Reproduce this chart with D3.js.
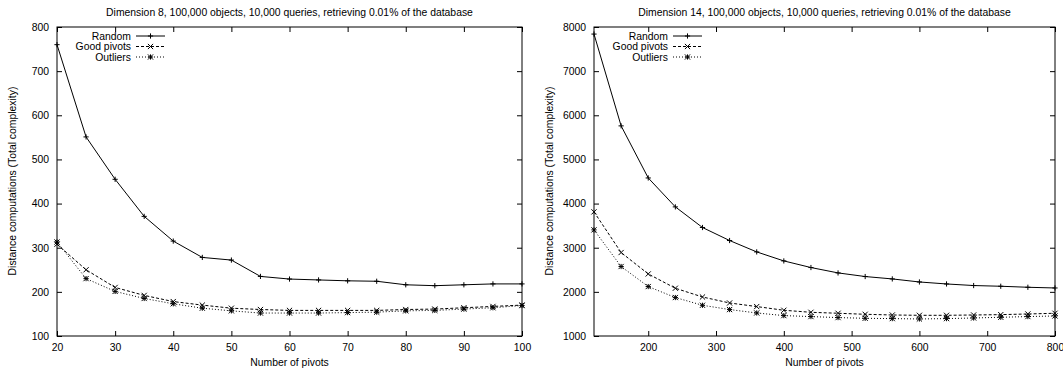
<!DOCTYPE html>
<html>
<head>
<meta charset="utf-8">
<script src="https://cdn.jsdelivr.net/npm/d3@7"></script>
<style>
  body { margin: 0; background: #fff; }
  svg text { font-family: "Liberation Sans", Arial, sans-serif; font-size: 10.4px; fill: #000; }
</style>
</head>
<body>
<div id="chart"></div>
<script>
// data
const seriesNames = ["Random", "Good pivots", "Outliers"];

const pivots8 = [20, 25, 30, 35, 40, 45, 50, 55, 60, 65, 70, 75, 80, 85, 90, 95, 100];
const random8 = [760, 551, 455, 371, 315, 278, 272, 235, 229, 227, 225, 224, 216, 214, 216, 218, 218];
const good8 = [308, 250, 210, 192, 178, 170, 163, 160, 158, 158, 158, 158, 160, 161, 164, 167, 170];
const outliers8 = [313, 230, 201, 185, 173, 163, 157, 152, 152, 152, 153, 154, 157, 158, 161, 164, 169];
const xTicks8 = [20, 30, 40, 50, 60, 70, 80, 90, 100];
const yTicks8 = [100, 200, 300, 400, 500, 600, 700, 800];

const pivots14 = [120, 160, 200, 240, 280, 320, 360, 400, 440, 480, 520, 560, 600, 640, 680, 720, 760, 800];
const random14 = [7840, 5760, 4580, 3925, 3458, 3163, 2905, 2701, 2551, 2429, 2347, 2293, 2224, 2179, 2143, 2127, 2104, 2088];
const good14 = [3812, 2891, 2406, 2082, 1884, 1748, 1667, 1583, 1537, 1515, 1492, 1476, 1469, 1469, 1476, 1484, 1499, 1515];
const outliers14 = [3404, 2574, 2120, 1871, 1696, 1599, 1522, 1462, 1440, 1417, 1401, 1394, 1386, 1394, 1408, 1424, 1440, 1454];
const xTicks14 = [200, 300, 400, 500, 600, 700, 800];
const yTicks14 = [1000, 2000, 3000, 4000, 5000, 6000, 7000, 8000];

const width = 1063;
const height = 369;

const svg = d3.select("#chart")
    .append("svg")
    .attr("width", width)
    .attr("height", height);

// gnuplot-ish point types: plus, cross, star
const s = 2.6;
const markers = [
    `M${-s},0H${s}M0,${-s}V${s}`,
    `M${-s},${-s}L${s},${s}M${-s},${s}L${s},${-s}`,
    `M${-s},0H${s}M0,${-s}V${s}M${-s},${-s}L${s},${s}M${-s},${s}L${s},${-s}`
];
const dashes = [null, "3,2", "1,2"];
const fmt = d3.format("d");

function drawPanel(opt) {
    const g = svg.append("g");
    const x = d3.scaleLinear().domain(opt.xDomain).range([opt.left, opt.right]);
    const y = d3.scaleLinear().domain(opt.yDomain).range([336, 27]);
    const tick = 5;

    // ticks inward on all four sides
    g.append("g").attr("transform", `translate(0,${y.range()[0]})`)
        .call(d3.axisBottom(x).tickValues(opt.xTicks).tickFormat(fmt).tickSizeInner(-tick).tickSizeOuter(0).tickPadding(8));
    g.append("g").attr("transform", `translate(0,${y.range()[1]})`)
        .call(d3.axisTop(x).tickValues(opt.xTicks).tickSizeInner(-tick).tickSizeOuter(0).tickFormat(""));
    g.append("g").attr("transform", `translate(${opt.left},0)`)
        .call(d3.axisLeft(y).tickValues(opt.yTicks).tickFormat(fmt).tickSizeInner(-tick).tickSizeOuter(0).tickPadding(8));
    g.append("g").attr("transform", `translate(${opt.right},0)`)
        .call(d3.axisRight(y).tickValues(opt.yTicks).tickSizeInner(-tick).tickSizeOuter(0).tickFormat(""));
    g.selectAll(".domain").remove();
    g.selectAll(".tick line").attr("stroke", "#000");
    g.selectAll(".tick text").style("font-size", "10.4px");

    // border
    g.append("rect")
        .attr("x", opt.left).attr("y", 27)
        .attr("width", opt.right - opt.left).attr("height", 336 - 27)
        .attr("fill", "none").attr("stroke", "#000").attr("stroke-width", 1);

    const cx = (opt.left + opt.right) / 2;
    g.append("text").attr("x", cx).attr("y", 16).attr("text-anchor", "middle").text(opt.title);
    g.append("text").attr("x", cx).attr("y", 366).attr("text-anchor", "middle").text("Number of pivots");
    g.append("text")
        .attr("transform", `translate(${opt.left - 41},181) rotate(-90)`)
        .attr("text-anchor", "middle")
        .text("Distance computations (Total complexity)");

    const line = d3.line()
        .x(d => x(d[0]))
        .y(d => y(d[1]));

    opt.series.forEach(function (vals, i) {
        const pts = opt.xs.map((v, j) => [v, vals[j]]);
        g.append("path")
            .datum(pts)
            .attr("fill", "none")
            .attr("stroke", "#000")
            .attr("stroke-width", 1)
            .attr("stroke-dasharray", dashes[i])
            .attr("d", line);
        g.append("g").selectAll("path")
            .data(pts)
            .enter()
            .append("path")
            .attr("transform", d => `translate(${x(d[0])},${y(d[1])})`)
            .attr("d", markers[i])
            .attr("fill", "none")
            .attr("stroke", "#000")
            .attr("stroke-width", 1);

        // legend row
        const ly = 36 + i * 10.5;
        g.append("text")
            .attr("x", opt.left + 74).attr("y", ly + 3.6)
            .attr("text-anchor", "end")
            .text(seriesNames[i]);
        g.append("line")
            .attr("x1", opt.left + 79).attr("x2", opt.left + 108)
            .attr("y1", ly).attr("y2", ly)
            .attr("stroke", "#000")
            .attr("stroke-dasharray", dashes[i]);
        g.append("path")
            .attr("transform", `translate(${opt.left + 93.5},${ly})`)
            .attr("d", markers[i])
            .attr("fill", "none")
            .attr("stroke", "#000");
    });
}

drawPanel({
    left: 57, right: 522,
    xDomain: [20, 100], yDomain: [100, 800],
    xTicks: xTicks8, yTicks: yTicks8,
    xs: pivots8,
    series: [random8, good8, outliers8],
    title: "Dimension 8, 100,000 objects, 10,000 queries, retrieving 0.01% of the database"
});

drawPanel({
    left: 594, right: 1055,
    xDomain: [120, 800], yDomain: [1000, 8000],
    xTicks: xTicks14, yTicks: yTicks14,
    xs: pivots14,
    series: [random14, good14, outliers14],
    title: "Dimension 14, 100,000 objects, 10,000 queries, retrieving 0.01% of the database"
});
</script>
</body>
</html>
